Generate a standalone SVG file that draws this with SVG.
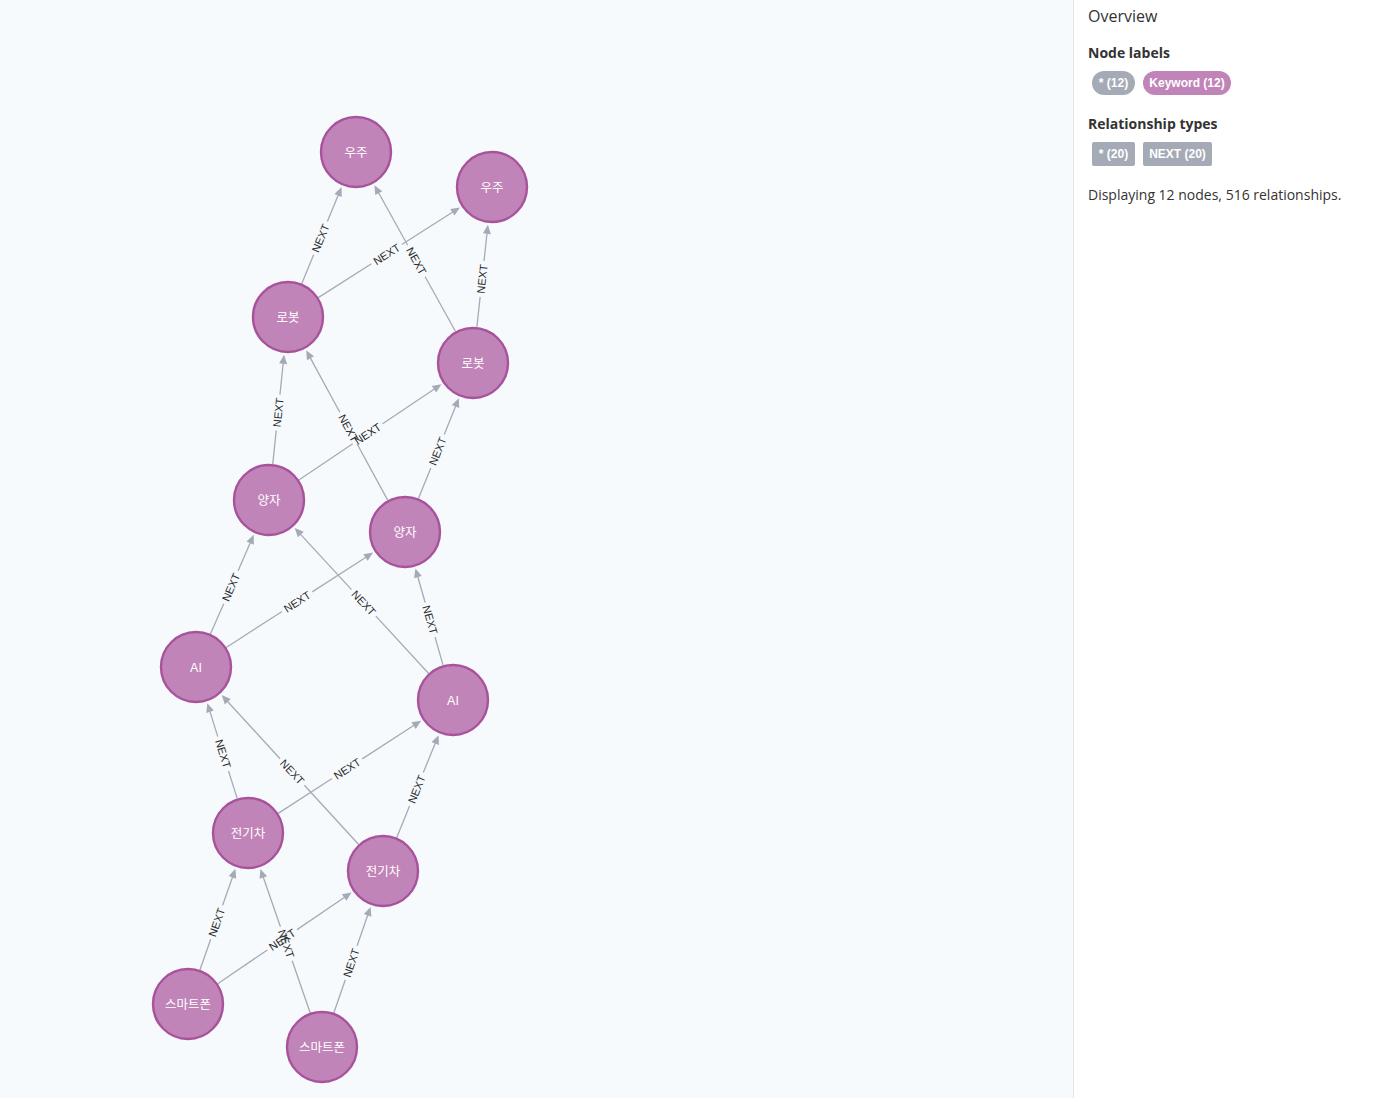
<svg xmlns="http://www.w3.org/2000/svg" width="1387" height="1098" viewBox="0 0 1387 1098">
<style>
.bg{fill:#f6fafd}
.panel{fill:#ffffff}
.edge line{stroke:#a5abb6;stroke-width:1.3}
.edge polygon{fill:#a5abb6}
.el{font-family:"Liberation Sans",Arial,sans-serif;font-size:11px;fill:#2b2b2b;text-anchor:middle}
.node circle{fill:#c184b8;stroke:#a8529c;stroke-width:2.4}
.node text{font-family:"Liberation Sans","Noto Sans CJK KR",sans-serif;font-size:12.5px;fill:#ffffff;text-anchor:middle}
.h1{font-family:"Open Sans",sans-serif;font-size:16px;fill:#333}
.h2{font-family:"Open Sans",sans-serif;font-size:14px;font-weight:bold;fill:#333}
.p{font-family:"Open Sans",sans-serif;font-size:14px;fill:#333}
.pill{font-family:"Liberation Sans",Arial,sans-serif;font-size:12px;font-weight:bold;fill:#fff;text-anchor:middle}
</style>
<rect class="bg" x="0" y="0" width="1073" height="1098"/>
<rect class="panel" x="1073" y="0" width="314" height="1098"/>
<line x1="1073.5" y1="0" x2="1073.5" y2="1098" stroke="#e3e7ec" stroke-width="1"/>

<g id="connectors">
<g class="edge" transform="translate(188,1004) rotate(-70.67)"><line x1="36" y1="0" x2="68.6" y2="0"/><line x1="104.6" y1="0" x2="135.2" y2="0"/><polygon points="143.2,0 134.2,-4 134.2,4"/><text class="el" x="86.6" y="4">NEXT</text></g>
<g class="edge" transform="translate(188,1004) rotate(-34.29)"><line x1="36" y1="0" x2="96" y2="0"/><line x1="132" y1="0" x2="190" y2="0"/><polygon points="198,0 189,-4 189,4"/><text class="el" x="114" y="4">NEXT</text></g>
<g class="edge" transform="translate(322,1047) rotate(-109.08)"><line x1="36" y1="0" x2="91.2" y2="0"/><line x1="127.2" y1="0" x2="180.4" y2="0"/><polygon points="188.4,0 179.4,-4 179.4,4"/><text class="el" x="109.2" y="4" transform="rotate(180 109.2 0)">NEXT</text></g>
<g class="edge" transform="translate(322,1047) rotate(-70.88)"><line x1="36" y1="0" x2="71.15" y2="0"/><line x1="107.15" y1="0" x2="140.3" y2="0"/><polygon points="148.3,0 139.3,-4 139.3,4"/><text class="el" x="89.15" y="4">NEXT</text></g>

<g class="edge" transform="translate(248,833) rotate(-107.39)"><line x1="36" y1="0" x2="65" y2="0"/><line x1="101" y1="0" x2="128" y2="0"/><polygon points="136,0 127,-4 127,4"/><text class="el" x="83" y="4" transform="rotate(180 83 0)">NEXT</text></g>
<g class="edge" transform="translate(248,833) rotate(-32.98)"><line x1="36" y1="0" x2="100.2" y2="0"/><line x1="136.2" y1="0" x2="198.4" y2="0"/><polygon points="206.4,0 197.4,-4 197.4,4"/><text class="el" x="118.2" y="4">NEXT</text></g>
<g class="edge" transform="translate(383,871) rotate(-132.51)"><line x1="36" y1="0" x2="116.35" y2="0"/><line x1="152.35" y1="0" x2="230.7" y2="0"/><polygon points="238.7,0 229.7,-4 229.7,4"/><text class="el" x="134.35" y="4" transform="rotate(180 134.35 0)">NEXT</text></g>
<g class="edge" transform="translate(383,871) rotate(-67.74)"><line x1="36" y1="0" x2="70.4" y2="0"/><line x1="106.4" y1="0" x2="138.8" y2="0"/><polygon points="146.8,0 137.8,-4 137.8,4"/><text class="el" x="88.4" y="4">NEXT</text></g>

<g class="edge" transform="translate(196,667) rotate(-66.39)"><line x1="36" y1="0" x2="69.15" y2="0"/><line x1="105.15" y1="0" x2="136.3" y2="0"/><polygon points="144.3,0 135.3,-4 135.3,4"/><text class="el" x="87.15" y="4">NEXT</text></g>
<g class="edge" transform="translate(196,667) rotate(-32.86)"><line x1="36" y1="0" x2="102.4" y2="0"/><line x1="138.4" y1="0" x2="202.8" y2="0"/><polygon points="210.8,0 201.8,-4 201.8,4"/><text class="el" x="120.4" y="4">NEXT</text></g>
<g class="edge" transform="translate(453,700) rotate(-132.61)"><line x1="36" y1="0" x2="113.9" y2="0"/><line x1="149.9" y1="0" x2="225.8" y2="0"/><polygon points="233.8,0 224.8,-4 224.8,4"/><text class="el" x="131.9" y="4" transform="rotate(180 131.9 0)">NEXT</text></g>
<g class="edge" transform="translate(453,700) rotate(-105.95)"><line x1="36" y1="0" x2="65.35" y2="0"/><line x1="101.35" y1="0" x2="128.7" y2="0"/><polygon points="136.7,0 127.7,-4 127.7,4"/><text class="el" x="83.35" y="4" transform="rotate(180 83.35 0)">NEXT</text></g>

<g class="edge" transform="translate(269,500) rotate(-84.07)"><line x1="36" y1="0" x2="70" y2="0"/><line x1="106" y1="0" x2="138" y2="0"/><polygon points="146,0 137,-4 137,4"/><text class="el" x="88" y="4">NEXT</text></g>
<g class="edge" transform="translate(269,500) rotate(-33.88)"><line x1="36" y1="0" x2="100.85" y2="0"/><line x1="136.85" y1="0" x2="199.7" y2="0"/><polygon points="207.7,0 198.7,-4 198.7,4"/><text class="el" x="118.85" y="4">NEXT</text></g>
<g class="edge" transform="translate(405,532) rotate(-118.55)"><line x1="36" y1="0" x2="100.4" y2="0"/><line x1="136.4" y1="0" x2="198.8" y2="0"/><polygon points="206.8,0 197.8,-4 197.8,4"/><text class="el" x="118.4" y="4" transform="rotate(180 118.4 0)">NEXT</text></g>
<g class="edge" transform="translate(405,532) rotate(-68.08)"><line x1="36" y1="0" x2="69.1" y2="0"/><line x1="105.1" y1="0" x2="136.2" y2="0"/><polygon points="144.2,0 135.2,-4 135.2,4"/><text class="el" x="87.1" y="4">NEXT</text></g>

<g class="edge" transform="translate(288,317) rotate(-67.6)"><line x1="36" y1="0" x2="67.25" y2="0"/><line x1="103.25" y1="0" x2="132.5" y2="0"/><polygon points="140.5,0 131.5,-4 131.5,4"/><text class="el" x="85.25" y="4">NEXT</text></g>
<g class="edge" transform="translate(288,317) rotate(-32.51)"><line x1="36" y1="0" x2="98.95" y2="0"/><line x1="134.95" y1="0" x2="195.9" y2="0"/><polygon points="203.9,0 194.9,-4 194.9,4"/><text class="el" x="116.95" y="4">NEXT</text></g>
<g class="edge" transform="translate(473,363) rotate(-119.01)"><line x1="36" y1="0" x2="98.65" y2="0"/><line x1="134.65" y1="0" x2="195.3" y2="0"/><polygon points="203.3,0 194.3,-4 194.3,4"/><text class="el" x="116.65" y="4" transform="rotate(180 116.65 0)">NEXT</text></g>
<g class="edge" transform="translate(473,363) rotate(-83.84)"><line x1="36" y1="0" x2="66.5" y2="0"/><line x1="102.5" y1="0" x2="131" y2="0"/><polygon points="139,0 130,-4 130,4"/><text class="el" x="84.5" y="4">NEXT</text></g>
</g>

<g id="node-uju-1" class="node"><circle cx="356" cy="152" r="35"/><text x="356" y="157">우주</text></g>
<g id="node-uju-2" class="node"><circle cx="492" cy="187" r="35"/><text x="492" y="192">우주</text></g>
<g id="node-robot-1" class="node"><circle cx="288" cy="317" r="35"/><text x="288" y="322">로봇</text></g>
<g id="node-robot-2" class="node"><circle cx="473" cy="363" r="35"/><text x="473" y="368">로봇</text></g>
<g id="node-yangja-1" class="node"><circle cx="269" cy="500" r="35"/><text x="269" y="505">양자</text></g>
<g id="node-yangja-2" class="node"><circle cx="405" cy="532" r="35"/><text x="405" y="537">양자</text></g>
<g id="node-ai-1" class="node"><circle cx="196" cy="667" r="35"/><text x="196" y="672">AI</text></g>
<g id="node-ai-2" class="node"><circle cx="453" cy="700" r="35"/><text x="453" y="705">AI</text></g>
<g id="node-ev-1" class="node"><circle cx="248" cy="833" r="35"/><text x="248" y="838">전기차</text></g>
<g id="node-ev-2" class="node"><circle cx="383" cy="871" r="35"/><text x="383" y="876">전기차</text></g>
<g id="node-phone-1" class="node"><circle cx="188" cy="1004" r="35"/><text x="188" y="1009">스마트폰</text></g>
<g id="node-phone-2" class="node"><circle cx="322" cy="1047" r="35"/><text x="322" y="1052">스마트폰</text></g>

<g id="overview">
<text class="h1" x="1088" y="22">Overview</text>
<text class="h2" x="1088" y="58">Node labels</text>
<rect x="1092" y="71" width="43" height="24" rx="12" fill="#a5abb6"/>
<text class="pill" x="1113.5" y="87">* (12)</text>
<rect x="1143" y="71" width="88" height="24" rx="12" fill="#c184b8"/>
<text class="pill" x="1187" y="87">Keyword (12)</text>
<text class="h2" x="1088" y="129">Relationship types</text>
<rect x="1092" y="142" width="43" height="24" rx="2" fill="#a5abb6"/>
<text class="pill" x="1113.5" y="158">* (20)</text>
<rect x="1143" y="142" width="69" height="24" rx="2" fill="#a5abb6"/>
<text class="pill" x="1177.5" y="158">NEXT (20)</text>
<text class="p" x="1088" y="200">Displaying 12 nodes, 516 relationships.</text>
</g>
</svg>
